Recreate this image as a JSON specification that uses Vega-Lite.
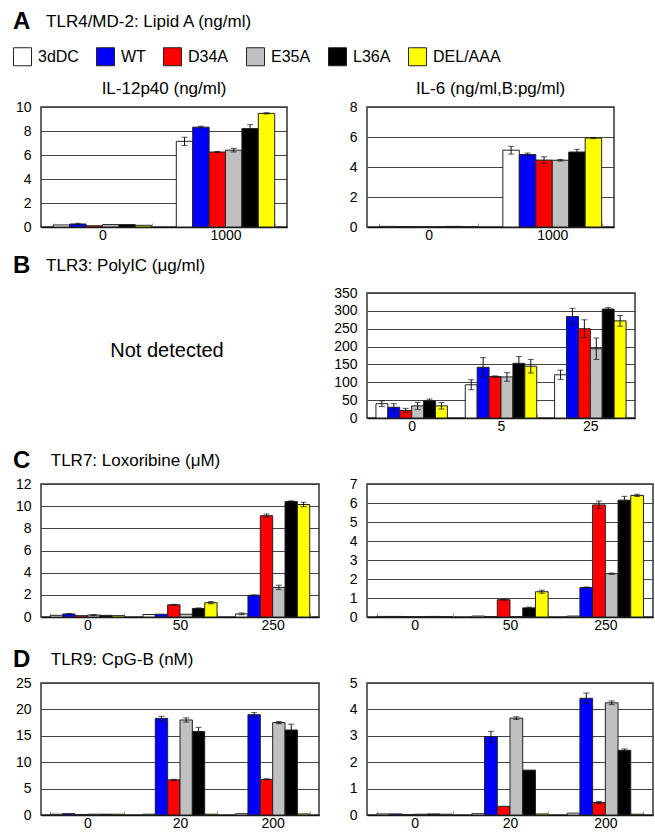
{
  "$schema": "https://vega.github.io/schema/vega-lite/v6.json",
  "background": "white",
  "padding": {"left": 12, "top": 10, "right": 2, "bottom": 2},
  "title": {"text": "A", "subtitle": "\u200b\u00a0\u00a0\u00a0\u00a0\u00a0\u00a0\u00a0TLR4/MD-2: Lipid A (ng/ml)", "anchor": "start", "frame": "group", "dx": -28, "fontSize": 24, "fontWeight": "bold", "subtitleFontSize": 17, "subtitleColor": "#000", "subtitlePadding": -20, "offset": 13},
  "datasets": {
    "AL": [
      {"d": "0", "g": "3dDC", "v": 0.17},
      {"d": "0", "g": "WT", "v": 0.25, "lo": 0.2, "hi": 0.31},
      {"d": "0", "g": "D34A", "v": 0.1},
      {"d": "0", "g": "E35A", "v": 0.2},
      {"d": "0", "g": "L36A", "v": 0.2},
      {"d": "0", "g": "DEL/AAA", "v": 0.14},
      {"d": "1000", "g": "3dDC", "v": 7.14, "lo": 6.8, "hi": 7.48},
      {"d": "1000", "g": "WT", "v": 8.32, "lo": 8.24, "hi": 8.4},
      {"d": "1000", "g": "D34A", "v": 6.25, "lo": 6.2, "hi": 6.3},
      {"d": "1000", "g": "E35A", "v": 6.4, "lo": 6.25, "hi": 6.55},
      {"d": "1000", "g": "L36A", "v": 8.2, "lo": 7.87, "hi": 8.53},
      {"d": "1000", "g": "DEL/AAA", "v": 9.47, "lo": 9.42, "hi": 9.52}
    ],
    "AR": [
      {"d": "0", "g": "3dDC", "v": 0.04},
      {"d": "0", "g": "WT", "v": 0.03},
      {"d": "0", "g": "D34A", "v": 0.01},
      {"d": "0", "g": "E35A", "v": 0.02},
      {"d": "0", "g": "L36A", "v": 0.04},
      {"d": "0", "g": "DEL/AAA", "v": 0.02},
      {"d": "1000", "g": "3dDC", "v": 5.12, "lo": 4.86, "hi": 5.38},
      {"d": "1000", "g": "WT", "v": 4.83, "lo": 4.73, "hi": 4.93},
      {"d": "1000", "g": "D34A", "v": 4.46, "lo": 4.24, "hi": 4.68},
      {"d": "1000", "g": "E35A", "v": 4.45, "lo": 4.4, "hi": 4.5},
      {"d": "1000", "g": "L36A", "v": 5.0, "lo": 4.82, "hi": 5.18},
      {"d": "1000", "g": "DEL/AAA", "v": 5.93, "lo": 5.89, "hi": 5.97}
    ],
    "BR": [
      {"d": "0", "g": "3dDC", "v": 40, "lo": 32, "hi": 48},
      {"d": "0", "g": "WT", "v": 30, "lo": 20, "hi": 40},
      {"d": "0", "g": "D34A", "v": 21, "lo": 15, "hi": 27},
      {"d": "0", "g": "E35A", "v": 34, "lo": 24, "hi": 44},
      {"d": "0", "g": "L36A", "v": 48, "lo": 43, "hi": 53},
      {"d": "0", "g": "DEL/AAA", "v": 34, "lo": 25, "hi": 43},
      {"d": "5", "g": "3dDC", "v": 93, "lo": 79, "hi": 107},
      {"d": "5", "g": "WT", "v": 142, "lo": 115, "hi": 169},
      {"d": "5", "g": "D34A", "v": 116, "lo": 114, "hi": 118},
      {"d": "5", "g": "E35A", "v": 115, "lo": 103, "hi": 127},
      {"d": "5", "g": "L36A", "v": 153, "lo": 134, "hi": 172},
      {"d": "5", "g": "DEL/AAA", "v": 145, "lo": 126, "hi": 164},
      {"d": "25", "g": "3dDC", "v": 121, "lo": 108, "hi": 134},
      {"d": "25", "g": "WT", "v": 284, "lo": 261, "hi": 307},
      {"d": "25", "g": "D34A", "v": 250, "lo": 225, "hi": 275},
      {"d": "25", "g": "E35A", "v": 194, "lo": 164, "hi": 224},
      {"d": "25", "g": "L36A", "v": 305, "lo": 301, "hi": 309},
      {"d": "25", "g": "DEL/AAA", "v": 272, "lo": 257, "hi": 287}
    ],
    "CL": [
      {"d": "0", "g": "3dDC", "v": 0.15},
      {"d": "0", "g": "WT", "v": 0.27, "lo": 0.22, "hi": 0.32},
      {"d": "0", "g": "D34A", "v": 0.12},
      {"d": "0", "g": "E35A", "v": 0.18, "lo": 0.14, "hi": 0.22},
      {"d": "0", "g": "L36A", "v": 0.15},
      {"d": "0", "g": "DEL/AAA", "v": 0.12},
      {"d": "50", "g": "3dDC", "v": 0.22},
      {"d": "50", "g": "WT", "v": 0.25},
      {"d": "50", "g": "D34A", "v": 1.1, "lo": 1.06, "hi": 1.14},
      {"d": "50", "g": "E35A", "v": 0.25},
      {"d": "50", "g": "L36A", "v": 0.77, "lo": 0.72, "hi": 0.82},
      {"d": "50", "g": "DEL/AAA", "v": 1.29, "lo": 1.19, "hi": 1.39},
      {"d": "250", "g": "3dDC", "v": 0.28, "lo": 0.2, "hi": 0.36},
      {"d": "250", "g": "WT", "v": 1.96, "lo": 1.93, "hi": 1.99},
      {"d": "250", "g": "D34A", "v": 9.14, "lo": 8.99, "hi": 9.29},
      {"d": "250", "g": "E35A", "v": 2.67, "lo": 2.47, "hi": 2.87},
      {"d": "250", "g": "L36A", "v": 10.42, "lo": 10.36, "hi": 10.48},
      {"d": "250", "g": "DEL/AAA", "v": 10.15, "lo": 9.95, "hi": 10.35}
    ],
    "CR": [
      {"d": "0", "g": "3dDC", "v": 0.03},
      {"d": "0", "g": "WT", "v": 0.03},
      {"d": "0", "g": "D34A", "v": 0.02},
      {"d": "0", "g": "E35A", "v": 0.02},
      {"d": "0", "g": "L36A", "v": 0.03},
      {"d": "0", "g": "DEL/AAA", "v": 0.02},
      {"d": "50", "g": "3dDC", "v": 0.05},
      {"d": "50", "g": "WT", "v": 0.02},
      {"d": "50", "g": "D34A", "v": 0.91, "lo": 0.88, "hi": 0.94},
      {"d": "50", "g": "E35A", "v": 0.02},
      {"d": "50", "g": "L36A", "v": 0.48, "lo": 0.44, "hi": 0.52},
      {"d": "50", "g": "DEL/AAA", "v": 1.33, "lo": 1.25, "hi": 1.41},
      {"d": "250", "g": "3dDC", "v": 0.05},
      {"d": "250", "g": "WT", "v": 1.55, "lo": 1.52, "hi": 1.58},
      {"d": "250", "g": "D34A", "v": 5.9, "lo": 5.7, "hi": 6.1},
      {"d": "250", "g": "E35A", "v": 2.28, "lo": 2.25, "hi": 2.31},
      {"d": "250", "g": "L36A", "v": 6.15, "lo": 5.95, "hi": 6.35},
      {"d": "250", "g": "DEL/AAA", "v": 6.4, "lo": 6.34, "hi": 6.46}
    ],
    "DL": [
      {"d": "0", "g": "3dDC", "v": 0.15},
      {"d": "0", "g": "WT", "v": 0.25},
      {"d": "0", "g": "D34A", "v": 0.1},
      {"d": "0", "g": "E35A", "v": 0.15},
      {"d": "0", "g": "L36A", "v": 0.15},
      {"d": "0", "g": "DEL/AAA", "v": 0.15},
      {"d": "20", "g": "3dDC", "v": 0.15},
      {"d": "20", "g": "WT", "v": 18.3, "lo": 17.9, "hi": 18.7},
      {"d": "20", "g": "D34A", "v": 6.65, "lo": 6.55, "hi": 6.75},
      {"d": "20", "g": "E35A", "v": 18.0, "lo": 17.6, "hi": 18.4},
      {"d": "20", "g": "L36A", "v": 15.8, "lo": 15.0, "hi": 16.6},
      {"d": "20", "g": "DEL/AAA", "v": 0.15},
      {"d": "200", "g": "3dDC", "v": 0.25},
      {"d": "200", "g": "WT", "v": 19.0, "lo": 18.6, "hi": 19.4},
      {"d": "200", "g": "D34A", "v": 6.75, "lo": 6.65, "hi": 6.85},
      {"d": "200", "g": "E35A", "v": 17.5, "lo": 17.3, "hi": 17.7},
      {"d": "200", "g": "L36A", "v": 16.1, "lo": 15.0, "hi": 17.2},
      {"d": "200", "g": "DEL/AAA", "v": 0.2}
    ],
    "DR": [
      {"d": "0", "g": "3dDC", "v": 0.04},
      {"d": "0", "g": "WT", "v": 0.04},
      {"d": "0", "g": "D34A", "v": 0.02},
      {"d": "0", "g": "E35A", "v": 0.03},
      {"d": "0", "g": "L36A", "v": 0.04},
      {"d": "0", "g": "DEL/AAA", "v": 0.03},
      {"d": "20", "g": "3dDC", "v": 0.05},
      {"d": "20", "g": "WT", "v": 2.97, "lo": 2.77, "hi": 3.17},
      {"d": "20", "g": "D34A", "v": 0.33},
      {"d": "20", "g": "E35A", "v": 3.67, "lo": 3.62, "hi": 3.72},
      {"d": "20", "g": "L36A", "v": 1.7},
      {"d": "20", "g": "DEL/AAA", "v": 0.04},
      {"d": "200", "g": "3dDC", "v": 0.07},
      {"d": "200", "g": "WT", "v": 4.42, "lo": 4.22, "hi": 4.62},
      {"d": "200", "g": "D34A", "v": 0.47, "lo": 0.43, "hi": 0.51},
      {"d": "200", "g": "E35A", "v": 4.25, "lo": 4.18, "hi": 4.32},
      {"d": "200", "g": "L36A", "v": 2.45, "lo": 2.4, "hi": 2.5},
      {"d": "200", "g": "DEL/AAA", "v": 0.03}
    ]
  },
  "columns": 2,
  "bounds": "flush",
  "align": "each",
  "spacing": {"row": 66, "column": 48},
  "resolve": {"scale": {"color": "shared", "x": "independent", "xOffset": "independent", "y": "independent"}, "legend": {"color": "shared"}},
  "concat": [
    {
      "width": 246, "height": 120,
      "data": {"name": "AL"},
      "title": {"text": "IL-12p40 (ng/ml)", "anchor": "middle", "frame": "group", "offset": 2},
      "encoding": {
        "x": {"field": "d", "type": "nominal", "sort": ["0", "1000"], "scale": {"paddingInner": 0.2, "paddingOuter": 0.1}},
        "xOffset": {"field": "g", "type": "nominal", "sort": ["3dDC", "WT", "D34A", "E35A", "L36A", "DEL/AAA"], "scale": {"paddingInner": 0, "paddingOuter": 0}}
      },
      "layer": [
        {"mark": {"type": "bar", "stroke": "#222", "strokeWidth": 1}, "encoding": {"y": {"field": "v", "type": "quantitative", "scale": {"domain": [0, 10], "nice": false}, "axis": {"values": [0, 2, 4, 6, 8, 10]}}, "color": {"field": "g", "type": "nominal", "scale": {"domain": ["3dDC", "WT", "D34A", "E35A", "L36A", "DEL/AAA"], "range": ["#ffffff", "#0000ff", "#ff0000", "#c0c0c0", "#000000", "#ffff00"]}, "legend": {"title": null}}}},
        {"mark": {"type": "rule", "color": "#111", "strokeWidth": 1}, "encoding": {"y": {"field": "lo", "type": "quantitative", "scale": {"domain": [0, 10], "nice": false}, "axis": {"values": [0, 2, 4, 6, 8, 10]}}, "y2": {"field": "hi"}}},
        {"mark": {"type": "tick", "color": "#111", "thickness": 1, "size": 6}, "encoding": {"y": {"field": "lo", "type": "quantitative", "scale": {"domain": [0, 10], "nice": false}, "axis": {"values": [0, 2, 4, 6, 8, 10]}}}},
        {"mark": {"type": "tick", "color": "#111", "thickness": 1, "size": 6}, "encoding": {"y": {"field": "hi", "type": "quantitative", "scale": {"domain": [0, 10], "nice": false}, "axis": {"values": [0, 2, 4, 6, 8, 10]}}}}
      ]
    },
    {
      "width": 247, "height": 120,
      "data": {"name": "AR"},
      "title": {"text": "IL-6 (ng/ml,B:pg/ml)", "anchor": "middle", "frame": "group", "offset": 2},
      "encoding": {
        "x": {"field": "d", "type": "nominal", "sort": ["0", "1000"], "scale": {"paddingInner": 0.2, "paddingOuter": 0.1}},
        "xOffset": {"field": "g", "type": "nominal", "sort": ["3dDC", "WT", "D34A", "E35A", "L36A", "DEL/AAA"], "scale": {"paddingInner": 0, "paddingOuter": 0}}
      },
      "layer": [
        {"mark": {"type": "bar", "stroke": "#222", "strokeWidth": 1}, "encoding": {"y": {"field": "v", "type": "quantitative", "scale": {"domain": [0, 8], "nice": false}, "axis": {"values": [0, 2, 4, 6, 8]}}, "color": {"field": "g", "type": "nominal", "scale": {"domain": ["3dDC", "WT", "D34A", "E35A", "L36A", "DEL/AAA"], "range": ["#ffffff", "#0000ff", "#ff0000", "#c0c0c0", "#000000", "#ffff00"]}, "legend": {"title": null}}}},
        {"mark": {"type": "rule", "color": "#111", "strokeWidth": 1}, "encoding": {"y": {"field": "lo", "type": "quantitative", "scale": {"domain": [0, 8], "nice": false}, "axis": {"values": [0, 2, 4, 6, 8]}}, "y2": {"field": "hi"}}},
        {"mark": {"type": "tick", "color": "#111", "thickness": 1, "size": 6}, "encoding": {"y": {"field": "lo", "type": "quantitative", "scale": {"domain": [0, 8], "nice": false}, "axis": {"values": [0, 2, 4, 6, 8]}}}},
        {"mark": {"type": "tick", "color": "#111", "thickness": 1, "size": 6}, "encoding": {"y": {"field": "hi", "type": "quantitative", "scale": {"domain": [0, 8], "nice": false}, "axis": {"values": [0, 2, 4, 6, 8]}}}}
      ]
    },
    {
      "width": 252, "height": 125,
      "data": {"values": [{"t": "Not detected"}]},
      "view": {"stroke": null},
      "title": {"text": "B", "subtitle": "\u200b\u00a0\u00a0\u00a0\u00a0\u00a0\u00a0\u00a0TLR3: PolyIC (\u03bcg/ml)", "anchor": "start", "frame": "group", "dx": -28, "fontSize": 24, "fontWeight": "bold", "subtitleFontSize": 17, "subtitleColor": "#000", "subtitlePadding": -20, "offset": 15},
      "mark": {"type": "text", "fontSize": 20, "dy": -5, "color": "#000"},
      "encoding": {"text": {"field": "t", "type": "nominal"}}
    },
    {
      "width": 268, "height": 125,
      "data": {"name": "BR"},
      "encoding": {
        "x": {"field": "d", "type": "nominal", "sort": ["0", "5", "25"], "scale": {"paddingInner": 0.2, "paddingOuter": 0.1}},
        "xOffset": {"field": "g", "type": "nominal", "sort": ["3dDC", "WT", "D34A", "E35A", "L36A", "DEL/AAA"], "scale": {"paddingInner": 0, "paddingOuter": 0}}
      },
      "layer": [
        {"mark": {"type": "bar", "stroke": "#222", "strokeWidth": 1}, "encoding": {"y": {"field": "v", "type": "quantitative", "scale": {"domain": [0, 350], "nice": false}, "axis": {"values": [0, 50, 100, 150, 200, 250, 300, 350]}}, "color": {"field": "g", "type": "nominal", "scale": {"domain": ["3dDC", "WT", "D34A", "E35A", "L36A", "DEL/AAA"], "range": ["#ffffff", "#0000ff", "#ff0000", "#c0c0c0", "#000000", "#ffff00"]}, "legend": {"title": null}}}},
        {"mark": {"type": "rule", "color": "#111", "strokeWidth": 1}, "encoding": {"y": {"field": "lo", "type": "quantitative", "scale": {"domain": [0, 350], "nice": false}, "axis": {"values": [0, 50, 100, 150, 200, 250, 300, 350]}}, "y2": {"field": "hi"}}},
        {"mark": {"type": "tick", "color": "#111", "thickness": 1, "size": 6}, "encoding": {"y": {"field": "lo", "type": "quantitative", "scale": {"domain": [0, 350], "nice": false}, "axis": {"values": [0, 50, 100, 150, 200, 250, 300, 350]}}}},
        {"mark": {"type": "tick", "color": "#111", "thickness": 1, "size": 6}, "encoding": {"y": {"field": "hi", "type": "quantitative", "scale": {"domain": [0, 350], "nice": false}, "axis": {"values": [0, 50, 100, 150, 200, 250, 300, 350]}}}}
      ]
    },
    {
      "width": 278, "height": 133,
      "data": {"name": "CL"},
      "title": {"text": "C", "subtitle": "\u200b\u00a0\u00a0\u00a0\u00a0\u00a0\u00a0\u00a0\u00a0TLR7: Loxoribine (\u03bcM)", "anchor": "start", "frame": "group", "dx": -28, "fontSize": 24, "fontWeight": "bold", "subtitleFontSize": 17, "subtitleColor": "#000", "subtitlePadding": -20, "offset": 4},
      "encoding": {
        "x": {"field": "d", "type": "nominal", "sort": ["0", "50", "250"], "scale": {"paddingInner": 0.2, "paddingOuter": 0.1}},
        "xOffset": {"field": "g", "type": "nominal", "sort": ["3dDC", "WT", "D34A", "E35A", "L36A", "DEL/AAA"], "scale": {"paddingInner": 0, "paddingOuter": 0}}
      },
      "layer": [
        {"mark": {"type": "bar", "stroke": "#222", "strokeWidth": 1}, "encoding": {"y": {"field": "v", "type": "quantitative", "scale": {"domain": [0, 12], "nice": false}, "axis": {"values": [0, 2, 4, 6, 8, 10, 12]}}, "color": {"field": "g", "type": "nominal", "scale": {"domain": ["3dDC", "WT", "D34A", "E35A", "L36A", "DEL/AAA"], "range": ["#ffffff", "#0000ff", "#ff0000", "#c0c0c0", "#000000", "#ffff00"]}, "legend": {"title": null}}}},
        {"mark": {"type": "rule", "color": "#111", "strokeWidth": 1}, "encoding": {"y": {"field": "lo", "type": "quantitative", "scale": {"domain": [0, 12], "nice": false}, "axis": {"values": [0, 2, 4, 6, 8, 10, 12]}}, "y2": {"field": "hi"}}},
        {"mark": {"type": "tick", "color": "#111", "thickness": 1, "size": 6}, "encoding": {"y": {"field": "lo", "type": "quantitative", "scale": {"domain": [0, 12], "nice": false}, "axis": {"values": [0, 2, 4, 6, 8, 10, 12]}}}},
        {"mark": {"type": "tick", "color": "#111", "thickness": 1, "size": 6}, "encoding": {"y": {"field": "hi", "type": "quantitative", "scale": {"domain": [0, 12], "nice": false}, "axis": {"values": [0, 2, 4, 6, 8, 10, 12]}}}}
      ]
    },
    {
      "width": 286, "height": 133,
      "data": {"name": "CR"},
      "encoding": {
        "x": {"field": "d", "type": "nominal", "sort": ["0", "50", "250"], "scale": {"paddingInner": 0.2, "paddingOuter": 0.1}},
        "xOffset": {"field": "g", "type": "nominal", "sort": ["3dDC", "WT", "D34A", "E35A", "L36A", "DEL/AAA"], "scale": {"paddingInner": 0, "paddingOuter": 0}}
      },
      "layer": [
        {"mark": {"type": "bar", "stroke": "#222", "strokeWidth": 1}, "encoding": {"y": {"field": "v", "type": "quantitative", "scale": {"domain": [0, 7], "nice": false}, "axis": {"values": [0, 1, 2, 3, 4, 5, 6, 7]}}, "color": {"field": "g", "type": "nominal", "scale": {"domain": ["3dDC", "WT", "D34A", "E35A", "L36A", "DEL/AAA"], "range": ["#ffffff", "#0000ff", "#ff0000", "#c0c0c0", "#000000", "#ffff00"]}, "legend": {"title": null}}}},
        {"mark": {"type": "rule", "color": "#111", "strokeWidth": 1}, "encoding": {"y": {"field": "lo", "type": "quantitative", "scale": {"domain": [0, 7], "nice": false}, "axis": {"values": [0, 1, 2, 3, 4, 5, 6, 7]}}, "y2": {"field": "hi"}}},
        {"mark": {"type": "tick", "color": "#111", "thickness": 1, "size": 6}, "encoding": {"y": {"field": "lo", "type": "quantitative", "scale": {"domain": [0, 7], "nice": false}, "axis": {"values": [0, 1, 2, 3, 4, 5, 6, 7]}}}},
        {"mark": {"type": "tick", "color": "#111", "thickness": 1, "size": 6}, "encoding": {"y": {"field": "hi", "type": "quantitative", "scale": {"domain": [0, 7], "nice": false}, "axis": {"values": [0, 1, 2, 3, 4, 5, 6, 7]}}}}
      ]
    },
    {
      "width": 278, "height": 132,
      "data": {"name": "DL"},
      "title": {"text": "D", "subtitle": "\u200b\u00a0\u00a0\u00a0\u00a0\u00a0\u00a0\u00a0\u00a0TLR9: CpG-B (nM)", "anchor": "start", "frame": "group", "dx": -28, "fontSize": 24, "fontWeight": "bold", "subtitleFontSize": 17, "subtitleColor": "#000", "subtitlePadding": -20, "offset": 4},
      "encoding": {
        "x": {"field": "d", "type": "nominal", "sort": ["0", "20", "200"], "scale": {"paddingInner": 0.2, "paddingOuter": 0.1}},
        "xOffset": {"field": "g", "type": "nominal", "sort": ["3dDC", "WT", "D34A", "E35A", "L36A", "DEL/AAA"], "scale": {"paddingInner": 0, "paddingOuter": 0}}
      },
      "layer": [
        {"mark": {"type": "bar", "stroke": "#222", "strokeWidth": 1}, "encoding": {"y": {"field": "v", "type": "quantitative", "scale": {"domain": [0, 25], "nice": false}, "axis": {"values": [0, 5, 10, 15, 20, 25]}}, "color": {"field": "g", "type": "nominal", "scale": {"domain": ["3dDC", "WT", "D34A", "E35A", "L36A", "DEL/AAA"], "range": ["#ffffff", "#0000ff", "#ff0000", "#c0c0c0", "#000000", "#ffff00"]}, "legend": {"title": null}}}},
        {"mark": {"type": "rule", "color": "#111", "strokeWidth": 1}, "encoding": {"y": {"field": "lo", "type": "quantitative", "scale": {"domain": [0, 25], "nice": false}, "axis": {"values": [0, 5, 10, 15, 20, 25]}}, "y2": {"field": "hi"}}},
        {"mark": {"type": "tick", "color": "#111", "thickness": 1, "size": 6}, "encoding": {"y": {"field": "lo", "type": "quantitative", "scale": {"domain": [0, 25], "nice": false}, "axis": {"values": [0, 5, 10, 15, 20, 25]}}}},
        {"mark": {"type": "tick", "color": "#111", "thickness": 1, "size": 6}, "encoding": {"y": {"field": "hi", "type": "quantitative", "scale": {"domain": [0, 25], "nice": false}, "axis": {"values": [0, 5, 10, 15, 20, 25]}}}}
      ]
    },
    {
      "width": 286, "height": 132,
      "data": {"name": "DR"},
      "encoding": {
        "x": {"field": "d", "type": "nominal", "sort": ["0", "20", "200"], "scale": {"paddingInner": 0.2, "paddingOuter": 0.1}},
        "xOffset": {"field": "g", "type": "nominal", "sort": ["3dDC", "WT", "D34A", "E35A", "L36A", "DEL/AAA"], "scale": {"paddingInner": 0, "paddingOuter": 0}}
      },
      "layer": [
        {"mark": {"type": "bar", "stroke": "#222", "strokeWidth": 1}, "encoding": {"y": {"field": "v", "type": "quantitative", "scale": {"domain": [0, 5], "nice": false}, "axis": {"values": [0, 1, 2, 3, 4, 5]}}, "color": {"field": "g", "type": "nominal", "scale": {"domain": ["3dDC", "WT", "D34A", "E35A", "L36A", "DEL/AAA"], "range": ["#ffffff", "#0000ff", "#ff0000", "#c0c0c0", "#000000", "#ffff00"]}, "legend": {"title": null}}}},
        {"mark": {"type": "rule", "color": "#111", "strokeWidth": 1}, "encoding": {"y": {"field": "lo", "type": "quantitative", "scale": {"domain": [0, 5], "nice": false}, "axis": {"values": [0, 1, 2, 3, 4, 5]}}, "y2": {"field": "hi"}}},
        {"mark": {"type": "tick", "color": "#111", "thickness": 1, "size": 6}, "encoding": {"y": {"field": "lo", "type": "quantitative", "scale": {"domain": [0, 5], "nice": false}, "axis": {"values": [0, 1, 2, 3, 4, 5]}}}},
        {"mark": {"type": "tick", "color": "#111", "thickness": 1, "size": 6}, "encoding": {"y": {"field": "hi", "type": "quantitative", "scale": {"domain": [0, 5], "nice": false}, "axis": {"values": [0, 1, 2, 3, 4, 5]}}}}
      ]
    }
  ],
  "config": {
    "font": "Liberation Sans",
    "view": {"stroke": "#333", "strokeWidth": 1.5},
    "title": {"fontSize": 17, "fontWeight": "normal", "color": "#000", "font": "Liberation Sans"},
    "axisY": {"grid": true, "gridColor": "#444", "gridWidth": 1.2, "gridOpacity": 1, "domain": false, "ticks": false, "labelPadding": 10, "labelFontSize": 14, "labelColor": "#000", "labelOverlap": false, "title": null},
    "axisX": {"grid": false, "domain": true, "domainColor": "#111", "domainWidth": 1.5, "ticks": true, "tickBand": "extent", "tickSize": -4, "tickColor": "#999", "labelPadding": 5, "labelFontSize": 14, "labelColor": "#000", "labelAngle": 0, "title": null},
    "legend": {"orient": "none", "legendX": -28, "legendY": -60, "direction": "horizontal", "columns": 6, "symbolType": "square", "symbolSize": 324, "symbolStrokeColor": "#222", "symbolStrokeWidth": 1, "symbolOpacity": 1, "labelFontSize": 16, "labelColor": "#000", "labelOffset": 6, "columnPadding": 15}
  }
}
